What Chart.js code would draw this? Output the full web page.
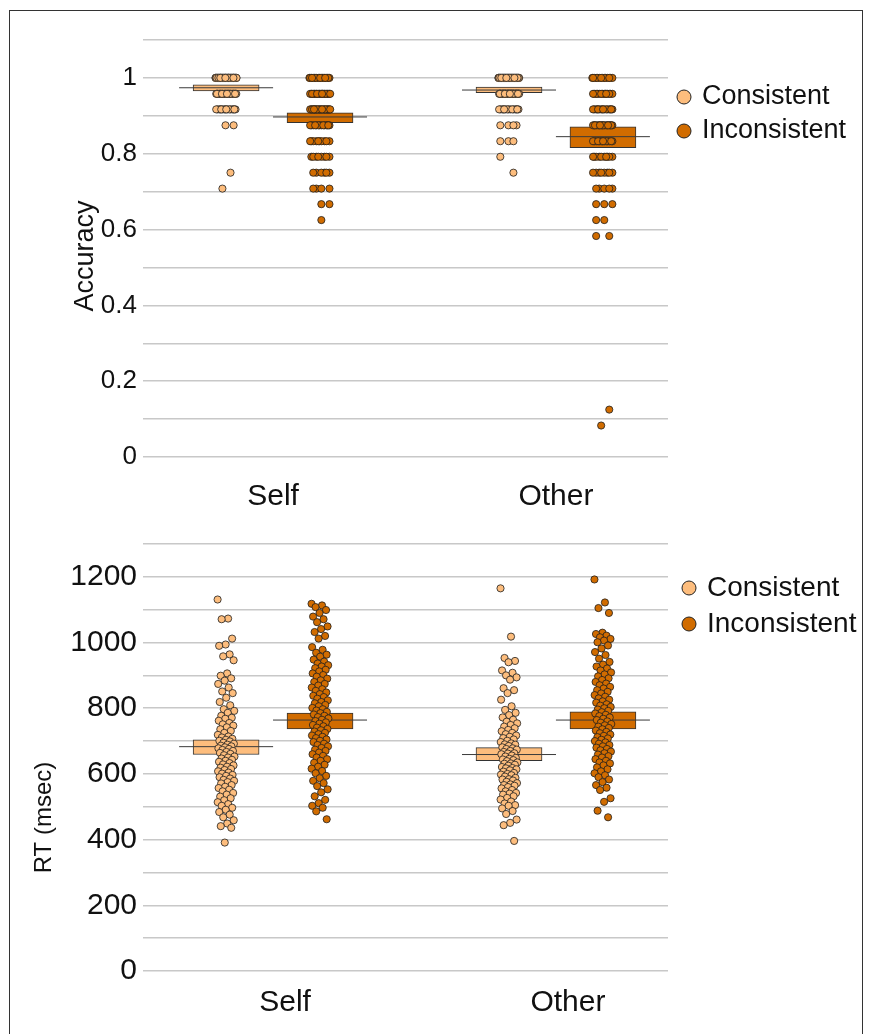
<!DOCTYPE html>
<html>
<head>
<meta charset="utf-8">
<script src="https://cdn.jsdelivr.net/npm/chart.js@4.4.1/dist/chart.umd.min.js"></script>
<style>
  body { margin: 0; background: #fff; width: 871px; height: 1034px; overflow: hidden; position: relative; }
  #frame { position: absolute; left: 9px; top: 10px; width: 854px; height: 1040px; border: 1.5px solid #333; box-sizing: border-box; }
  .panel { position: absolute; left: 0; width: 871px; }
  #top { top: 0; height: 520px; }
  #bot { top: 520px; height: 514px; }
</style>
</head>
<body>
<div id="frame"></div>
<div class="panel" id="top"><canvas id="accChart"></canvas></div>
<div class="panel" id="bot"><canvas id="rtChart"></canvas></div>
<script>
// categories and series
const conditions = ['Self', 'Other'];
const series = ['Consistent', 'Inconsistent'];
const seriesColors = ['#fdbd7d', '#d16c00'];

// accuracy levels (24 trials) and number of participants at each level
const accLevels = [1, 0.958, 0.917, 0.875, 0.833, 0.792, 0.75, 0.708, 0.667, 0.625, 0.583, 0.125, 0.083];
const accSelfCons  = [60, 30, 16, 2, 0, 0, 1, 1, 0, 0, 0, 0, 0];
const accSelfInc   = [20, 22, 22, 14, 10, 8, 6, 4, 2, 1, 0, 0, 0];
const accOtherCons = [55, 30, 15, 4, 3, 1, 1, 0, 0, 0, 0, 0, 0];
const accOtherInc  = [14, 14, 16, 18, 14, 10, 8, 5, 3, 2, 2, 1, 1];

// accuracy summaries (Self, Other)
const accMeanCons = [0.974, 0.968];
const accLowCons  = [0.966, 0.961];
const accHighCons = [0.982, 0.976];
const accMeanInc  = [0.897, 0.845];
const accLowInc   = [0.882, 0.816];
const accHighInc  = [0.908, 0.871];

// RT per participant (msec)
const rtSelfCons = [1131, 1073, 1071, 1012, 994, 990, 964, 958, 946, 906, 899, 891, 884, 874, 863, 851, 846, 832, 819, 809,
  797, 792, 786, 777, 771, 768, 762, 755, 751, 747, 742, 736, 731, 725, 719, 714, 711, 707, 704, 701,
  699, 695, 692, 689, 686, 684, 681, 678, 676, 673, 670, 667, 664, 661, 657, 653, 650, 647, 643, 640,
  637, 633, 629, 626, 622, 619, 615, 612, 608, 604, 601, 597, 594, 590, 586, 582, 579, 575, 571, 566,
  561, 557, 552, 547, 542, 537, 531, 526, 520, 514, 508, 503, 497, 491, 484, 476, 468, 459, 449, 441, 436, 391];
const rtSelfInc = [1118, 1113, 1108, 1099, 1090, 1079, 1071, 1062, 1049, 1041, 1032, 1020, 1012, 986, 978, 969, 963, 957, 948, 942,
  936, 931, 927, 922, 917, 912, 906, 901, 896, 890, 885, 880, 874, 869, 863, 858, 853, 848, 843, 838,
  834, 829, 824, 819, 815, 810, 806, 801, 797, 793, 789, 785, 781, 777, 773, 769, 765, 761, 757, 753,
  749, 745, 741, 737, 733, 729, 725, 721, 717, 713, 709, 705, 701, 697, 692, 688, 684, 679, 674, 670,
  665, 660, 655, 650, 645, 640, 634, 628, 622, 616, 609, 602, 594, 587, 579, 572, 563, 553, 544, 532,
  521, 511, 503, 497, 486, 462];
const rtOtherCons = [1165, 1018, 953, 944, 940, 915, 908, 900, 894, 887, 861, 855, 846, 826, 806, 795, 786, 779, 772, 765,
  759, 754, 749, 744, 739, 734, 730, 725, 721, 717, 713, 709, 705, 701, 697, 693, 690, 689, 685, 681,
  678, 676, 674, 670, 667, 663, 662, 660, 656, 653, 649, 646, 644, 642, 639, 635, 632, 631, 628, 625,
  621, 618, 617, 614, 611, 607, 603, 600, 598, 596, 592, 588, 584, 583, 580, 576, 572, 568, 566, 564,
  560, 556, 551, 547, 542, 540, 537, 532, 527, 522, 516, 510, 505, 503, 495, 487, 478, 461, 451, 444, 396];
const rtOtherInc = [1192, 1122, 1105, 1090, 1030, 1026, 1021, 1016, 1011, 1006, 1001, 991, 982, 971, 962, 951, 941, 933, 927, 921,
  915, 909, 903, 897, 891, 886, 880, 875, 870, 865, 860, 855, 850, 845, 840, 835, 830, 826, 821, 817,
  812, 808, 804, 800, 796, 792, 788, 784, 780, 776, 772, 768, 764, 760, 756, 752, 748, 744, 740, 736,
  732, 728, 724, 720, 716, 712, 708, 704, 700, 696, 692, 688, 684, 680, 676, 672, 668, 663, 659, 654,
  650, 645, 640, 635, 632, 626, 620, 614, 608, 602, 596, 590, 583, 575, 566, 558, 551, 526, 515, 488, 468];

// RT summaries (Self, Other)
const rtMeanCons = [683, 659];
const rtLowCons  = [659, 640];
const rtHighCons = [704, 680];
const rtMeanInc  = [764, 764];
const rtLowInc   = [737, 737];
const rtHighInc  = [785, 789];

const family = "'Liberation Sans', Arial, sans-serif";
Chart.defaults.font.family = family;
Chart.defaults.color = '#111';

// x placement: group centres with a dodge for each series
const groupPos = [1, 2];
const dodge = 0.166;
const xPos = (g, s) => groupPos[g] + (s === 0 ? -dodge : dodge);

// fixed sideways spread (golden-ratio sequence, no randomness)
const jit = i => ((i * 0.618034) % 1) - 0.5;

function accPoints(countsBySide, s) {
  const pts = [];
  countsBySide.forEach((counts, g) => {
    counts.forEach((c, li) => {
      for (let k = 0; k < c; k++) pts.push({ x: xPos(g, s) + jit(k + li) * 0.075, y: accLevels[li] });
    });
  });
  return pts;
}

function rtPoints(valuesBySide, s) {
  const pts = [];
  valuesBySide.forEach((vals, g) => {
    vals.forEach((v, i) => pts.push({ x: xPos(g, s) + jit(i) * 0.06, y: v }));
  });
  return pts;
}

function buildDatasets(pointSets, means, lows, highs) {
  const sets = [];
  series.forEach((name, s) => {
    sets.push({
      type: 'scatter', label: name, data: pointSets[s], order: 0,
      backgroundColor: seriesColors[s], borderColor: '#1e1e1e', borderWidth: 0.8, pointRadius: 3.6
    });
    sets.push({
      type: 'scatter', label: name + ' mean', order: 1,
      data: groupPos.map((_, g) => ({ x: xPos(g, s), y: means[s][g] })),
      pointStyle: 'line', pointRadius: 47, borderColor: '#3a3a3a', borderWidth: 1
    });
    sets.push({
      type: 'bar', label: name + ' box', order: 2, grouped: false,
      data: groupPos.map((_, g) => ({ x: xPos(g, s), y: [lows[s][g], highs[s][g]] })),
      backgroundColor: seriesColors[s], borderColor: '#333', borderWidth: 1,
      borderSkipped: false, barThickness: 66
    });
  });
  return sets;
}

const sideLegend = {
  id: 'sideLegend',
  afterDraw(chart, args, opts) {
    const { ctx, chartArea } = chart;
    ctx.save();
    series.forEach((name, i) => {
      const x = chartArea.right + opts.dx;
      const y = chartArea.top + opts.top + i * opts.gap;
      ctx.beginPath();
      ctx.arc(x, y, opts.r, 0, Math.PI * 2);
      ctx.fillStyle = seriesColors[i];
      ctx.fill();
      ctx.lineWidth = 1;
      ctx.strokeStyle = '#222';
      ctx.stroke();
      ctx.font = opts.size + 'px ' + family;
      ctx.fillStyle = '#111';
      ctx.textBaseline = 'middle';
      ctx.fillText(name, x + opts.textDx, y);
    });
    ctx.restore();
  }
};

function makeChart(id, cfg) {
  const ctx = document.getElementById(id).getContext('2d');
  return new Chart(ctx, {
    type: 'scatter',
    data: { datasets: cfg.datasets },
    plugins: [sideLegend],
    options: {
      animation: false,
      responsive: true,
      maintainAspectRatio: false,
      events: [],
      layout: { autoPadding: false, padding: { top: cfg.padTop, right: 203, left: 0, bottom: 0 } },
      plugins: {
        legend: { display: false },
        tooltip: { enabled: false },
        sideLegend: cfg.legend
      },
      scales: {
        x: {
          type: 'linear', min: 0.565, max: 2.396, offset: false,
          afterBuildTicks: s => { s.ticks = groupPos.map(v => ({ value: v })); },
          ticks: {
            callback: (v, i) => conditions[i], autoSkip: false, maxRotation: 0,
            font: { size: 30 }, padding: cfg.xPad, labelOffset: cfg.xLabelOffset
          },
          grid: { display: false },
          border: { display: false },
          afterFit: s => { s.height = cfg.xHeight; }
        },
        y: {
          min: 0, max: cfg.yMax,
          ticks: {
            stepSize: cfg.step, autoSkip: false,
            callback: (v, i) => (i % 2 === 0 ? String(Math.round(v * 10) / 10) : ''),
            font: { size: cfg.tickSize }, padding: 6
          },
          grid: { color: '#c8c8c8', lineWidth: 1.5, tickLength: 7 },
          border: { display: false },
          title: { display: true, text: cfg.title, font: { size: cfg.titleSize }, padding: { top: cfg.titlePad, bottom: 0 } },
          afterFit: s => { s.width = 150; }
        }
      }
    }
  });
}

// trailing spaces nudge the rotated titles down a little, as in the original
makeChart('accChart', {
  datasets: buildDatasets(
    [accPoints([accSelfCons, accOtherCons], 0), accPoints([accSelfInc, accOtherInc], 1)],
    [accMeanCons, accMeanInc], [accLowCons, accLowInc], [accHighCons, accHighInc]),
  padTop: 40, yMax: 1.1, step: 0.1, tickSize: 26, title: 'Accuracy\u00a0\u00a0', titleSize: 27, titlePad: 69,
  xPad: 14, xLabelOffset: 0, xHeight: 63,
  legend: { dx: 16, top: 57, gap: 34, r: 7, textDx: 18, size: 27 }
});

makeChart('rtChart', {
  datasets: buildDatasets(
    [rtPoints([rtSelfCons, rtOtherCons], 0), rtPoints([rtSelfInc, rtOtherInc], 1)],
    [rtMeanCons, rtMeanInc], [rtLowCons, rtLowInc], [rtHighCons, rtHighInc]),
  padTop: 21, yMax: 1300, step: 100, tickSize: 30, title: 'RT (msec)' + '\u00a0'.repeat(18), titleSize: 24, titlePad: 30,
  xPad: 6, xLabelOffset: 12, xHeight: 63,
  legend: { dx: 21, top: 44, gap: 36, r: 7, textDx: 18, size: 28 }
});
</script>
</body>
</html>
